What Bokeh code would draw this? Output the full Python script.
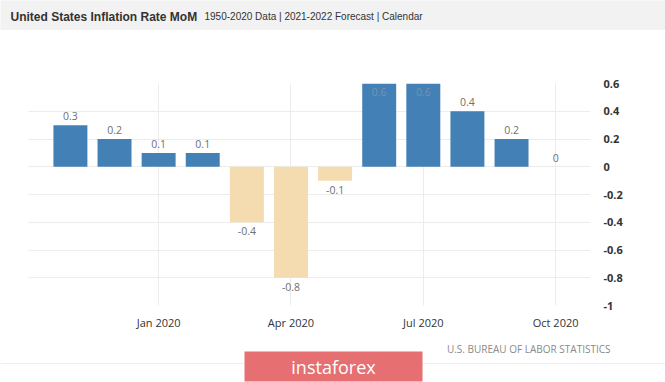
from bokeh.plotting import figure
from bokeh.layouts import column
from bokeh.models import ColumnDataSource, FixedTicker, Range1d, BoxAnnotation, Label, Span
from bokeh.embed import file_html
from bokeh.resources import INLINE
from bokeh.core.properties import value

# ---- data ----
months = ["Nov 2019", "Dec 2019", "Jan 2020", "Feb 2020", "Mar 2020", "Apr 2020",
          "May 2020", "Jun 2020", "Jul 2020", "Aug 2020", "Sep 2020", "Oct 2020"]
rates = [0.3, 0.2, 0.1, 0.1, -0.4, -0.8, -0.1, 0.6, 0.6, 0.4, 0.2, 0.0]
rate_labels = ["0.3", "0.2", "0.1", "0.1", "-0.4", "-0.8", "-0.1", "0.6", "0.6", "0.4", "0.2", "0"]
x_tick_months = ["Jan 2020", "Apr 2020", "Jul 2020", "Oct 2020"]
y_ticks = [0.6, 0.4, 0.2, 0, -0.2, -0.4, -0.6, -0.8, -1]
y_tick_labels = ["0.6", "0.4", "0.2", "0", "-0.2", "-0.4", "-0.6", "-0.8", "-1"]

title_text = "United States Inflation Rate MoM"
subtitle_text = "1950-2020 Data | 2021-2022 Forecast | Calendar"
source_text = "U.S. BUREAU OF LABOR STATISTICS"
logo_text = "instaforex"

Y_MIN, Y_MAX = -1, 0.6
POS, NEG = "#4380b5", "#f5dcb0"
W = 665


def strip(height, fill):
    fig = figure(width=W, height=height, output_backend="svg", toolbar_location=None,
                 x_range=Range1d(0, W), y_range=Range1d(height, 0),
                 x_axis_location=None, y_axis_location=None, min_border=0)
    fig.frame_align = False
    fig.grid.visible = False
    fig.outline_line_color = None
    fig.background_fill_color = fill
    fig.border_fill_color = fill
    return fig


# ---- header strip ----
hdr = strip(30, "#f2f2f2")
hdr.add_layout(Label(x=10, y=16, text=title_text, text_font="Liberation Sans",
                     text_font_style="bold", text_font_size="12px", text_color="#333333",
                     text_baseline="middle", text_align="left"))
hdr.add_layout(Label(x=204, y=16, text=subtitle_text, text_font="Liberation Sans",
                     text_font_size="10px", text_color="#333333",
                     text_baseline="middle", text_align="left"))

# ---- main chart ----
xs = list(range(len(months)))
colors = [POS if r >= 0 else NEG for r in rates]
inside = [r >= Y_MAX for r in rates]
baselines = ["top" if (r < 0 or ins) else "bottom" for r, ins in zip(rates, inside)]
offsets = [4 if ins else (5 if r < 0 else -5) for r, ins in zip(rates, inside)]
lab_colors = ["#7393b4" if ins else "#6f6f6f" for ins in inside]

src = ColumnDataSource(dict(x=xs, rate=rates, color=colors, label=rate_labels,
                            base=baselines, off=offsets, lcol=lab_colors))

p = figure(width=W, height=302, output_backend="svg", toolbar_location=None,
           x_range=Range1d(-0.95, 11.79), y_range=Range1d(Y_MIN, Y_MAX),
           y_axis_location="right", min_border_left=28, min_border_right=75,
           min_border_top=53, min_border_bottom=21)
p.frame_align = False
p.outline_line_color = None
p.background_fill_color = "white"
p.border_fill_color = "white"

p.vbar(x="x", top="rate", bottom=0, width=0.77, fill_color="color",
       line_color=None, source=src)
p.text(x="x", y="rate", text="label", source=src, text_align="center",
       text_baseline="base", y_offset="off", text_color="lcol",
       text_font=value("Open Sans"), text_font_size="10.5px")

tick_pos = [months.index(m) for m in x_tick_months]
p.xaxis.ticker = FixedTicker(ticks=tick_pos)
p.xaxis.major_label_overrides = {i: m for i, m in zip(tick_pos, x_tick_months)}
p.yaxis.ticker = FixedTicker(ticks=y_ticks)
p.yaxis.major_label_overrides = {t: l for t, l in zip(y_ticks, y_tick_labels)}
for ax in (p.xaxis[0], p.yaxis[0]):
    ax.axis_line_color = None
    ax.major_tick_line_color = None
    ax.minor_tick_line_color = None
    ax.major_label_text_font = "Open Sans"
    ax.major_label_text_color = "#333333"
    ax.major_label_text_font_size = "11px"
p.xaxis.major_label_standoff = 3
p.yaxis.major_label_standoff = 7
p.yaxis.major_label_text_font_style = "bold"

p.xgrid.grid_line_color = "#ececec"
p.ygrid.grid_line_color = "#ececec"
p.ygrid.ticker = FixedTicker(ticks=y_ticks)

# ---- footer strip ----
ftr = strip(50, "white")
ftr.add_layout(Span(location=31, dimension="width", line_color="#eeeeee", line_width=1))
ftr.add_layout(Label(x=610, y=16, text=source_text, text_font="Open Sans",
                     text_font_size="10px", text_color="#8a8a8a",
                     text_baseline="middle", text_align="right"))
ftr.add_layout(BoxAnnotation(left=244, right=422, top=19, bottom=49,
                             fill_color="#e66f71", fill_alpha=1, line_color=None))
ftr.add_layout(Label(x=333, y=34, text=logo_text, text_font="Open Sans",
                     text_font_size="18px", text_color="white",
                     text_baseline="middle", text_align="center"))

layout = column(hdr, p, ftr, spacing=0)
open("out.html", "w").write(file_html(layout, INLINE))
